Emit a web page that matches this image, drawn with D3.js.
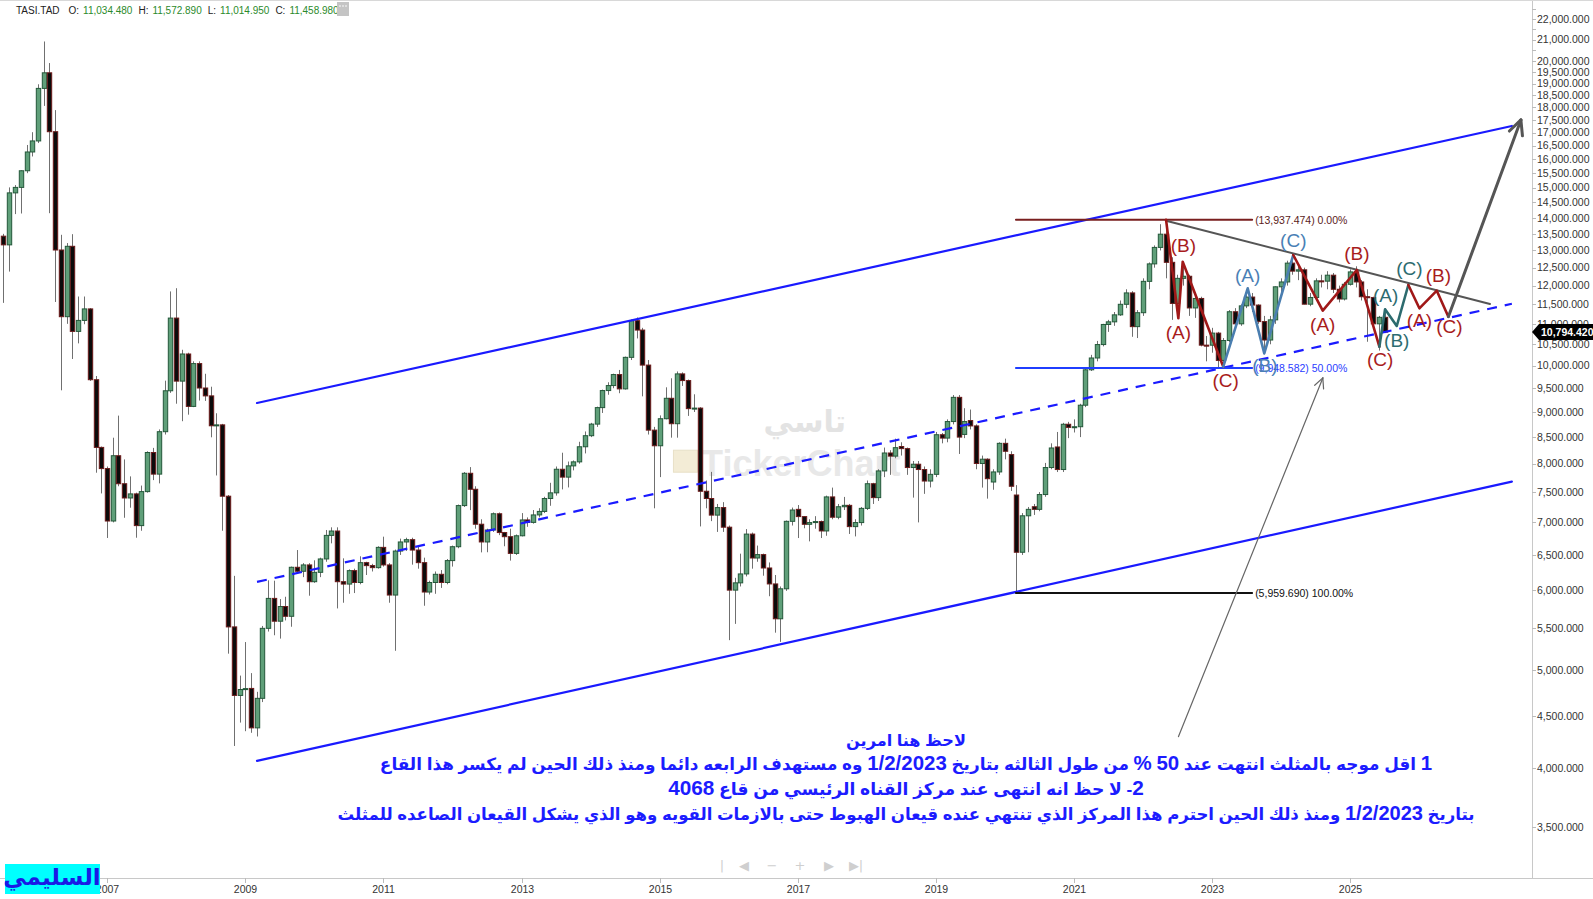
<!DOCTYPE html>
<html><head><meta charset="utf-8">
<script src="https://cdn.jsdelivr.net/npm/d3@7"></script>
<style>body{margin:0;background:#fff;overflow:hidden}svg{display:block}</style>
</head><body><svg id="c" width="1593" height="899"></svg>
<script>
// ---------------- DATA (monthly TASI candles, Jul 2005 .. Jul 2025) ----------------
const firstMonth = "2005-07";
const opens = [
 13429,13166,14820,15006,15585,16266,
 16680,18799,19478,17034,13013,11180,13123,10812,11086,11380,9686,8303,
 7912,7022,8147,7644,7400,7469,6949,7508,8207,7813,8605,9445,
 11145,9655,10270,9115,10048,9505,9336,8722,8740,7430,5518,4721,
 4785,4797,4385,4690,5500,5888,5590,5780,5653,6320,6263,6354,
 6116,6248,6441,6796,6864,6116,6083,6272,6105,6387,6344,6315,
 6613,6354,5933,6558,6695,6730,6573,6387,5974,6105,6220,6105,
 6417,6623,7273,7828,7548,6971,6695,6880,7139,6840,6776,6523,
 6790,7039,7000,7120,7177,7391,7487,7900,7760,7961,8034,8315,
 8527,8755,9090,9450,9558,9800,9486,10192,11079,10845,10014,8636,
 8334,8863,9285,8763,9815,9667,9069,9080,7514,7391,7117,7240,
 6924,6000,6100,6225,6816,6455,6505,6310,6085,5621,6018,7017,
 7211,7093,6970,6997,7013,6865,7418,7083,7254,7277,6933,6997,
 7227,7644,7406,7870,8198,8140,8320,8280,7931,7991,7895,7691,
 7809,8546,8481,8806,9305,8552,8826,8719,8004,8083,7674,7852,
 8380,8168,7450,6540,7106,7254,7211,7458,7931,8311,7895,8752,
 8690,8703,9140,9907,10177,10493,10984,11050,11227,11500,11802,10930,
 11282,12117,12608,13090,13490,12653,11523,12200,12258,11405,11654,10479,
 10478,10770,10121,10590,11307,11000,11459,11691,11480,11056,10602,11100,
 11967,12100,12630,12402,12439,11503,11680,12130,12122,12288,11900,11640,
 12036,12380,12100,11700,11680,11000,11164];
const highs = [
 13500,15006,15085,15600,16527,17015,
 18976,20918,19915,17893,13471,13220,13490,11706,11706,11400,9768,8320,
 7950,8488,8926,8079,7773,7490,7612,8230,8294,8650,9665,11842,
 11929,10369,10300,10100,10100,9818,9533,8974,8760,7450,6198,4939,
 5331,4967,4760,5530,6135,6130,5879,5910,6330,6573,6380,6380,
 6421,6460,6880,6922,6922,6450,6290,6300,6480,6400,6370,6630,
 6776,6380,6580,6746,6760,6760,6620,6460,6130,6260,6280,6440,
 6640,7290,7850,7939,7600,7050,6900,7160,7160,6850,6900,6810,
 7150,7080,7200,7230,7420,7660,7950,8203,8040,8060,8410,8610,
 8780,9110,9470,9630,9820,9904,10210,11110,11160,10900,10130,8700,
 8930,9520,9718,9870,9850,9690,9370,9100,7700,7853,7300,7330,
 6950,6170,6519,6894,6840,6640,6520,6390,6210,6050,7030,7240,
 7282,7100,7050,7100,7030,7440,7577,7300,7418,7300,7050,7250,
 7700,7660,7900,8300,8250,8470,8400,8300,8050,8050,7950,7900,
 8600,8580,8850,9354,9354,9078,9050,8750,8150,8100,7900,8400,
 8470,8230,7620,7150,7250,7300,7500,8015,8380,8600,8780,8800,
 8850,9170,9950,10250,10580,11000,11100,11300,11600,11900,11850,11350,
 12200,12650,13150,13800,13937.474,12800,12300,12560,12300,11800,11700,10700,
 10900,10800,10650,11350,11400,11500,11900,11800,11500,11200,11200,11980,
 12200,12700,12880,12600,12500,11800,12200,12300,12400,12350,12000,12100,
 12450,12540,12150,11900,11700,11200,11400];
const lows = [
 11537,12389,14121,14140,15500,16100,
 16600,18064,14150,11561,9455,11000,10154,10521,10990,9660,7838,7477,
 6756,7000,7600,7074,7238,6760,6868,7490,7707,7650,8550,9400,
 9171,8813,8945,9100,9238,9230,8496,7789,6868,5192,4208,4438,
 4352,4336,4300,4650,5460,5414,5373,5600,5520,6250,6180,5924,
 6100,6180,6400,6674,5755,5830,5950,5960,6080,6210,6260,6300,
 6330,5830,5226,6500,6560,6358,6300,5790,5940,5950,6030,6080,
 6330,6600,7250,7198,6900,6538,6540,6850,6800,6630,6417,6500,
 6780,6930,6980,7080,7150,7270,7440,7546,7580,7880,8000,8190,
 8500,8700,8980,9360,9500,9393,9470,10130,10640,9326,8550,7228,
 7760,8850,8489,8489,9550,8920,9000,6936,7228,7020,6850,6850,
 5354,5556,6050,6190,6300,6400,6200,5917,5446,5333,5990,6950,
 6755,6907,6704,6900,6755,6790,7050,7050,7200,6818,6780,6950,
 7200,7300,7350,7760,7800,8100,8150,7800,7406,7000,7470,7580,
 7760,8380,8400,8750,8180,8480,8650,7900,7577,7389,7540,7800,
 8080,7520,5959.69,6500,6540,7120,7180,7420,7900,7850,7850,8480,
 8590,8500,9100,9880,10100,10450,10800,10950,11200,11400,10680,10650,
 11200,11900,12500,13000,12200,11100,11400,12000,11200,11150,10450,10100,
 10300,9930,9930,10550,10950,10950,11400,11300,11000,10260,10500,11000,
 11700,12000,12300,12150,11500,11450,11600,11950,11900,11800,11550,11600,
 12000,11950,11600,10560,10980,10350,10770];
const closes = [
 13166,14820,15006,15585,16266,16680,
 18799,19478,17034,13013,11180,13123,10812,11086,11380,9686,8303,7912,
 7022,8147,7644,7400,7469,6949,7508,8207,7813,8605,9445,11145,
 9655,10270,9115,10048,9505,9336,8722,8740,7430,5518,4721,4785,
 4795,4385,4690,5500,5888,5590,5780,5653,6320,6263,6354,6116,
 6248,6441,6796,6864,6116,6083,6272,6105,6387,6344,6315,6613,
 6354,5933,6558,6695,6730,6573,6387,5974,6105,6220,6105,6417,
 6623,7273,7828,7548,6971,6695,6880,7139,6840,6776,6523,6790,
 7039,7000,7120,7177,7391,7487,7900,7760,7961,8034,8315,8527,
 8755,9090,9450,9558,9800,9486,10192,11079,10845,10014,8636,8334,
 8863,9285,8763,9815,9667,9069,9080,7514,7391,7117,7240,6924,
 6000,6100,6225,6816,6455,6505,6310,6085,5621,6018,7017,7200,
 7093,6970,6997,7013,6865,7418,7083,7254,7277,6933,6997,7227,
 7644,7406,7870,8198,8140,8298,8280,7931,7991,7895,7691,7809,
 8546,8481,8806,9305,8500,8806,8719,8004,8083,7732,7852,8380,
 8230,7600,6540,7106,7211,7211,7458,7931,8292,7895,8752,8690,
 8703,9140,9907,10177,10493,10984,11050,11227,11500,11802,10930,11282,
 12117,12608,13090,13490,12653,11523,12200,12258,11405,11654,10479,10478,
 10770,10121,10590,11307,11000,11459,11691,11480,11056,10602,11100,11967,
 12100,12630,12402,12439,11503,11680,12130,12122,12288,11900,11640,12036,
 12380,12100,11700,11680,11000,11164,10794.42];

// price axis ticks
const yTickLabels = [22000,21000,20000,19500,19000,18500,18000,17500,17000,16500,16000,15500,15000,14500,14000,13500,13000,12500,12000,11500,11000,10500,10000,9500,9000,8500,8000,7500,7000,6500,6000,5500,5000,4500,4000,3500];
const yTickMinor = [22500,21500,20500];
const yearTicks = [2007,2009,2011,2013,2015,2017,2019,2021,2023,2025];

// header
const headerSymbol = "TASI.TAD";
const headerOHLC = [["O:","11,034.480"],["H:","11,572.890"],["L:","11,014.950"],["C:","11,458.980"]];
const lastPrice = 10794.42;

// drawings, points as [decimal year, value]
const channelUpper = [[2009.168, 9186],[2027.341, 17258]];
const channelLower = [[2009.168, 4068],[2027.341, 7681]];
const fibSpan = [2020.16, 2023.58];
const fibLevels = [
  {v:13937.474, label:"(13,937.474) 0.00%", color:"#7a1f1f", text:"#5a1a1a"},
  {v:9948.582,  label:"(9,948.582) 50.00%", color:"#1f3dff", text:"#2a3cff"},
  {v:5959.69,   label:"(5,959.690) 100.00%", color:"#111111", text:"#111111"}];
const triangleTop = [[2022.333, 13911],[2027.024, 11508]];
const waveRed1  = [[2022.333,13937],[2022.511,11139],[2022.574,12671],[2023.162,9977]];
const waveBlue  = [[2023.162,9977],[2023.516,11926],[2023.756,10286],[2024.176,12866]];
const waveRed2  = [[2024.176,12866],[2024.602,11334],[2025.094,12434],[2025.421,10442]];
const waveTeal  = [[2025.421,10442],[2025.504,11370],[2025.673,10946],[2025.841,12017]];
const waveRed3  = [[2025.841,12017],[2026.001,11396],[2026.253,11862],[2026.421,11180]];
const breakoutArrow = [[2026.421,11180],[2027.472,17497]];
const pointerArrow = [[2022.513,4299],[2024.603,9726]];
const waveLabels = [
 {t:"(B)",p:[2022.583,13163],c:"red"},{t:"(A)",p:[2022.511,10780],c:"red"},{t:"(C)",p:[2023.197,9680],c:"red"},
 {t:"(A)",p:[2023.516,12293],c:"blue"},{t:"(B)",p:[2023.766,10016],c:"blue"},{t:"(C)",p:[2024.176,13313],c:"blue"},
 {t:"(A)",p:[2024.602,10996],c:"red"},{t:"(B)",p:[2025.094,12915],c:"red"},{t:"(C)",p:[2025.432,10147],c:"red"},
 {t:"(A)",p:[2025.513,11746],c:"teal"},{t:"(B)",p:[2025.673,10603],c:"teal"},{t:"(C)",p:[2025.856,12482],c:"teal"},
 {t:"(A)",p:[2026.001,11078],c:"red"},{t:"(B)",p:[2026.276,12293],c:"red"},{t:"(C)",p:[2026.435,10946],c:"red"}];
const noteLines = [
 "لاحظ هنا امرين",
 "1 اقل موجه بالمثلث انتهت عند 50 % من طول الثالثه بتاريخ 1/2/2023 وه مستهدف الرابعه دائما  ومنذ ذلك الحين لم يكسر هذا القاع",
 "2- لا حظ انه انتهى عند مركز القناه الرئيسي  من قاع 4068",
 "بتاريخ 1/2/2023 ومنذ ذلك الحين احترم هذا المركز الذي تنتهي عنده قيعان الهبوط حتى بالازمات القويه  وهو الذي يشكل القيعان الصاعده للمثلث"];
const noteWidths = [120, 1053, 476, 1138];
const logoText = "السليمي";

// ---------------- CHART ----------------
const W = 1593, H = 899, plotR = 1532, plotB = 878;
const svg = d3.select("#c");
const x = d3.scaleTime().domain([new Date(2005,5,13), new Date(2027,7,20)]).range([0, plotR]);
const y = d3.scaleLog().domain([3115.7, 22989]).range([plotB, 0]);
function fy(t){const yr=Math.floor(t);const a=new Date(yr,0,1),b=new Date(yr+1,0,1);return new Date(+a+(t-yr)*(b-a));}
const px = p => [x(fy(p[0])), y(p[1])];

svg.append("rect").attr("width",W).attr("height",H).attr("fill","#fff");
svg.append("defs").append("clipPath").attr("id","clip").append("rect").attr("width",plotR).attr("height",plotB);

// watermark
const wm = svg.append("g").attr("pointer-events","none");
wm.append("text").attr("x",x(fy(2017.1))).attr("y",y(8600)).attr("text-anchor","middle")
  .attr("font-family","DejaVu Sans").attr("font-size",30).attr("font-weight","bold").attr("fill","#e3e3e3").text("تاسي");
wm.append("rect").attr("x",x(fy(2015.2))).attr("y",y(8250)).attr("width",24).attr("height",22).attr("fill","#f3ecd6").attr("stroke","#e8e0c8");
wm.append("text").attr("x",x(fy(2015.6))).attr("y",y(7780)).attr("font-family","Liberation Sans").attr("font-weight","bold")
  .attr("font-size",36).attr("fill","#e8e8e8").text("TickerChart");

// axes frame
svg.append("line").attr("x1",0).attr("x2",W).attr("y1",plotB+0.5).attr("y2",plotB+0.5).attr("stroke","#c8c8c8");
svg.append("line").attr("x1",plotR+0.5).attr("x2",plotR+0.5).attr("y1",0).attr("y2",plotB).attr("stroke","#c8c8c8");
svg.append("line").attr("x1",0).attr("x2",W).attr("y1",0.5).attr("y2",0.5).attr("stroke","#d8d8d8");

// y axis
const ya = svg.append("g").attr("font-family","Liberation Sans").attr("font-size",10.5).attr("fill","#333");
yTickLabels.concat(yTickMinor).forEach(v=>{
  ya.append("line").attr("x1",plotR).attr("x2",plotR+4).attr("y1",Math.round(y(v))+0.5).attr("y2",Math.round(y(v))+0.5).attr("stroke","#bbb");
});
yTickLabels.forEach(v=>{
  ya.append("text").attr("x",plotR+5).attr("y",y(v)).attr("dy","0.35em").text(d3.format(",.3f")(v));
});
// x axis
const xa = svg.append("g").attr("font-family","Liberation Sans").attr("font-size",10.5).attr("fill","#333");
yearTicks.forEach(yr=>{
  const xx = Math.round(x(new Date(yr,0,1)))+0.5;
  xa.append("line").attr("x1",xx).attr("x2",xx).attr("y1",plotB).attr("y2",plotB+5).attr("stroke","#bbb");
  xa.append("text").attr("x",xx).attr("y",plotB+15).attr("text-anchor","middle").text(yr);
});

// candles
const start = d3.timeParse("%Y-%m")(firstMonth);
const candles = opens.map((o,i)=>({d:d3.timeMonth.offset(start,i),o,h:highs[i],l:lows[i],c:closes[i]}));
const cg = svg.append("g").attr("clip-path","url(#clip)");
const bw = 4.4;
candles.forEach(k=>{
  const cx = Math.round(x(k.d));
  const up = k.c >= k.o;
  cg.append("line").attr("x1",cx+0.5).attr("x2",cx+0.5).attr("y1",y(k.h)).attr("y2",y(k.l)).attr("stroke","#707070").attr("stroke-width",1);
  const top = y(Math.max(k.o,k.c)), bot = y(Math.min(k.o,k.c));
  cg.append("rect").attr("x",cx+0.5-bw/2).attr("y",top).attr("width",bw).attr("height",Math.max(1,bot-top))
    .attr("fill",up?"#5f9f79":"#0b0b0b").attr("stroke",up?"#24583a":"#6c1a1a").attr("stroke-width",1);
});

// drawings
const dg = svg.append("g").attr("clip-path","url(#clip)").attr("fill","none").attr("stroke-linecap","round").attr("stroke-linejoin","round");
const line = d3.line().x(p=>px(p)[0]).y(p=>px(p)[1]);
dg.append("path").attr("d",line(channelUpper)).attr("stroke","#1a1aff").attr("stroke-width",2.2);
dg.append("path").attr("d",line(channelLower)).attr("stroke","#1a1aff").attr("stroke-width",2.2);
const channelMid = channelUpper.map((p,i)=>[p[0], Math.sqrt(p[1]*channelLower[i][1])]);
dg.append("path").attr("d",line(channelMid)).attr("stroke","#1a1aff").attr("stroke-width",2.2).attr("stroke-dasharray","10,8").attr("stroke-linecap","butt");
fibLevels.forEach(f=>{
  dg.append("path").attr("d",line([[fibSpan[0],f.v],[fibSpan[1],f.v]])).attr("stroke",f.color).attr("stroke-width",2);
});
dg.append("path").attr("d",line(triangleTop)).attr("stroke","#555").attr("stroke-width",2);
const waveCol = {red:"#a01818", blue:"#4a7eb0", teal:"#2c6b6e"};
[[waveRed1,"red"],[waveBlue,"blue"],[waveRed2,"red"],[waveTeal,"teal"],[waveRed3,"red"]].forEach(([w,c])=>{
  dg.append("path").attr("d",line(w)).attr("stroke",waveCol[c]).attr("stroke-width",2.6);
});
function arrow(pts, col, wdt, head){
  const a = px(pts[0]), b = px(pts[1]);
  dg.append("path").attr("d",line(pts)).attr("stroke",col).attr("stroke-width",wdt);
  const ang = Math.atan2(b[1]-a[1], b[0]-a[0]);
  [0.45,-0.45].forEach(s=>{
    dg.append("line").attr("x1",b[0]).attr("y1",b[1])
      .attr("x2",b[0]-head*Math.cos(ang+s)).attr("y2",b[1]-head*Math.sin(ang+s))
      .attr("stroke",col).attr("stroke-width",wdt);
  });
}
arrow(breakoutArrow,"#555",3,16);
arrow(pointerArrow,"#666",1.2,11);

// fib labels
const fl = svg.append("g").attr("font-family","Liberation Sans").attr("font-size",10.5);
fibLevels.forEach(f=>{
  fl.append("text").attr("x",x(fy(fibSpan[1]))+3).attr("y",y(f.v)).attr("dy","0.35em").attr("fill",f.text).text(f.label);
});

// wave labels
const wl = svg.append("g").attr("font-family","Liberation Sans").attr("font-size",19).attr("text-anchor","middle");
const labCol = {red:"#a81c1c", blue:"#4a7fb5", teal:"#2d6c70"};
waveLabels.forEach(l=>{
  const p = px(l.p);
  wl.append("text").attr("x",p[0]).attr("y",p[1]).attr("dy","0.35em").attr("fill",labCol[l.c]).text(l.t);
});

// last price tag
const ty = Math.round(y(lastPrice));
svg.append("path").attr("d",`M${plotR},${ty} L${plotR+7},${ty-8} L${W},${ty-8} L${W},${ty+8} L${plotR+7},${ty+8} Z`).attr("fill","#000");
svg.append("text").attr("x",plotR+9).attr("y",ty).attr("dy","0.36em").attr("fill","#fff").attr("font-family","Liberation Sans")
  .attr("font-weight","bold").attr("font-size",10.5).text(d3.format(",.3f")(lastPrice));

// header
const hd = svg.append("text").attr("x",16).attr("y",14).attr("font-family","Liberation Sans").attr("font-size",10);
hd.append("tspan").attr("fill","#222").text(headerSymbol);
headerOHLC.forEach((p,i)=>{
  hd.append("tspan").attr("fill","#222").attr("dx", i===0?9:6).text(p[0]);
  hd.append("tspan").attr("fill","#2b8a2b").attr("dx",4).text(p[1]);
});
svg.append("rect").attr("x",337).attr("y",2).attr("width",12).attr("height",14).attr("fill","#c4c4c4");
[340,343,346].forEach(cx=>svg.append("circle").attr("cx",cx).attr("cy",6).attr("r",0.8).attr("fill","#fff"));

// notes (Arabic) – numbers set larger; whole line scaled by font size to the picture's width
const nt = svg.append("g").attr("font-family","Liberation Sans, DejaVu Sans").attr("font-weight","bold").attr("fill","#1c1cff");
const noteBase = [746, 770, 795, 820];
noteLines.forEach((s,i)=>{
  const t = nt.append("text").attr("x",906).attr("y",noteBase[i]).attr("direction","rtl").attr("text-anchor","middle").attr("font-size",19);
  const parts = [];
  s.split(/([\d\/%]+)/).forEach(part=>{
    if(!part) return;
    const isNum = /^[\d\/%]+$/.test(part);
    parts.push([t.append("tspan").text(part), isNum]);
  });
  parts.forEach(([ts,isNum])=>ts.attr("font-size", isNum?23:19));
  const w0 = t.node().getComputedTextLength();
  const k = noteWidths[i]/w0;
  parts.forEach(([ts,isNum])=>ts.attr("font-size", (isNum?23:19)*k));
});

// logo
svg.append("rect").attr("x",5).attr("y",864).attr("width",95).attr("height",30).attr("fill","#00ffff");
svg.append("text").attr("x",52).attr("y",885).attr("text-anchor","middle").attr("font-family","DejaVu Sans").attr("font-weight","bold")
  .attr("font-size",23).attr("fill","#1a1ae6").attr("direction","rtl").text(logoText);

// navigation buttons
const nav = svg.append("g").attr("fill","#cfcfcf").attr("font-family","DejaVu Sans").attr("font-size",13).attr("text-anchor","middle");
[["|",722],["◀",744],["−",772],["+",800],["▶",829],["▶",854],["|",861]].forEach(([s,xx])=>{
  nav.append("text").attr("x",xx).attr("y",870).text(s);
});
</script></body></html>
